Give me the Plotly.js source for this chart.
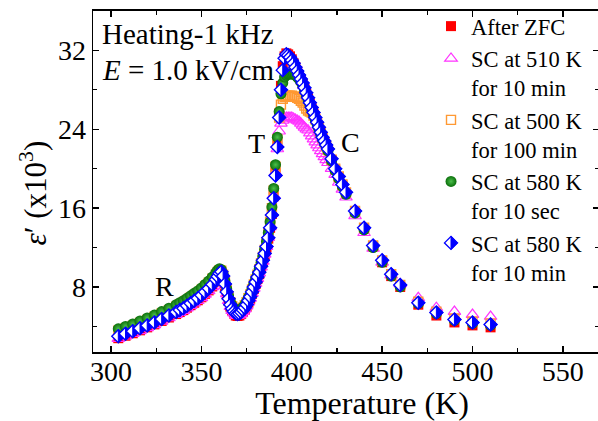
<!DOCTYPE html>
<html>
<head>
<meta charset="utf-8">
<script src="https://cdn.plot.ly/plotly-3.0.1.min.js"></script>
<style>html,body{margin:0;padding:0;overflow:hidden;background:#fff}#chart{width:610px;height:421px}</style>
</head>
<body>
<div id="chart"></div>
<script>
const temperature = [304,308,312,316,320,324,328,332,336,338,340,342,344,346,348,350,352,354,356,358,
 359,360,361,362,363,364,365,366,367,368,369,370,371,372,373,374,375,376,377,378,379,380,
 381,382,383,384,385,386,387,388,389,390,391,392,393,394,395,396,397,398,399,400,
 401,402,403,404,405,406,407,408,409,410,411,412,413,414,415,416,417,418,419,420,
 422,424,426,428,430,435,440,445,450,455,460,470,480,490,500,510];

const afterZFC = [2.8,3.05,3.3,3.6,3.9,4.2,4.55,4.9,5.25,5.45,5.65,5.9,6.15,6.4,6.65,6.95,7.3,7.65,8.05,8.55,
 8.85,9.2,9.35,8.9,8.1,7.3,6.6,6.0,5.6,5.3,5.1,5.05,5.1,5.25,5.45,5.7,6.0,6.4,6.8,7.3,7.8,8.3,
 8.8,9.3,9.9,10.5,11.2,12.0,12.9,14.0,15.4,17.2,19.6,22.5,25.6,28.4,30.4,31.4,31.7,31.6,31.4,31.1,
 30.7,30.3,29.9,29.5,29.0,28.6,28.1,27.6,27.1,26.6,26.1,25.6,25.1,24.6,24.1,23.6,23.1,22.7,22.3,21.9,
 20.9,19.9,19.1,18.3,17.5,15.6,13.9,12.1,10.5,9.1,8.0,6.2,5.1,4.4,4.1,3.9];

const sc510_10min = [2.75,3.0,3.25,3.55,3.85,4.15,4.5,4.85,5.2,5.4,5.6,5.85,6.1,6.35,6.6,6.9,7.25,7.6,8.0,8.5,
 8.8,9.15,9.3,8.9,8.1,7.3,6.6,6.0,5.6,5.35,5.15,5.1,5.15,5.3,5.5,5.75,6.05,6.45,6.85,7.35,7.85,8.35,
 8.85,9.4,10.0,10.6,11.3,12.1,13.0,14.1,15.5,17.3,19.6,22.0,23.8,24.6,24.9,25.1,25.2,25.2,25.2,25.2,
 25.1,25.0,24.9,24.8,24.6,24.4,24.2,24.0,23.9,23.6,23.3,23.0,22.7,22.4,22.1,21.8,21.5,21.2,20.9,20.6,
 20.0,19.4,18.6,17.9,17.1,15.2,13.5,11.9,10.5,9.2,8.3,6.9,5.9,5.5,5.2,5.0];

const sc500_100min = [3.55,3.8,4.05,4.35,4.65,4.95,5.3,5.65,6.0,6.2,6.4,6.65,6.9,7.15,7.4,7.7,8.05,8.4,8.8,9.25,
 9.5,9.7,9.65,9.25,8.55,7.75,7.05,6.45,6.05,5.75,5.55,5.5,5.55,5.7,5.9,6.15,6.45,6.85,7.25,7.75,8.25,8.75,
 9.25,9.8,10.4,11.05,11.75,12.55,13.45,14.6,16.0,17.8,20.2,23.0,25.2,26.5,27.1,27.3,27.4,27.4,27.4,27.4,
 27.3,27.3,27.2,27.1,26.9,26.7,26.4,26.1,25.9,25.8,25.7,25.4,25.0,24.6,24.1,23.6,23.1,22.7,22.3,21.9,
 20.9,20.0,19.2,18.4,17.6,15.7,14.0,12.2,10.7,9.3,8.2,6.5,5.5,4.8,4.5,4.3];

const sc580_10sec = [3.75,4.0,4.25,4.55,4.85,5.15,5.5,5.85,6.2,6.4,6.6,6.85,7.1,7.35,7.6,7.9,8.25,8.6,9.0,9.45,
 9.7,9.85,9.75,9.3,8.6,7.8,7.1,6.5,6.1,5.8,5.6,5.55,5.6,5.75,5.95,6.2,6.5,6.9,7.3,7.8,8.3,8.8,
 9.3,9.85,10.45,11.1,11.8,12.6,13.5,14.6,16.1,18.0,20.4,23.2,25.8,27.6,28.7,29.3,29.5,29.6,29.6,29.6,
 29.6,29.5,29.3,29.1,28.8,28.5,28.0,27.5,27.0,26.5,26.0,25.5,25.0,24.5,24.0,23.5,23.0,22.6,22.2,21.8,
 20.8,19.8,19.0,18.2,17.4,15.5,13.8,12.0,10.5,9.1,8.0,6.3,5.3,4.6,4.3,4.1];

const sc580_10min = [3.0,3.25,3.5,3.8,4.1,4.4,4.75,5.1,5.45,5.65,5.85,6.1,6.35,6.6,6.85,7.15,7.5,7.85,8.25,8.75,
 9.05,9.4,9.55,9.1,8.3,7.5,6.8,6.2,5.8,5.5,5.3,5.25,5.3,5.45,5.65,5.9,6.2,6.6,7.0,7.5,8.0,8.5,
 9.0,9.5,10.1,10.7,11.4,12.1,13.0,14.0,15.3,17.0,19.3,22.2,25.2,28.0,30.0,31.2,31.6,31.5,31.3,31.0,
 30.7,30.3,29.9,29.5,29.1,28.7,28.2,27.7,27.2,26.7,26.2,25.7,25.2,24.7,24.2,23.7,23.2,22.8,22.4,22.0,
 21.0,20.0,19.2,18.4,17.6,15.7,14.0,12.2,10.7,9.3,8.2,6.4,5.4,4.7,4.4,4.2];

const seriesNames = ['After ZFC','SC at 510 K<br>for 10 min','SC at 500 K<br>for 100 min','SC at 580 K<br>for 10 sec','SC at 580 K<br>for 10 min'];
const xTickVals = [300,350,400,450,500,550];
const yTickVals = [8,16,24,32];

const serif = 'Liberation Serif, Times New Roman, serif';
const BLUE = '#0000FF';
const DIAMOND_SIZE = 10;

const traces = [
 {x: temperature, y: afterZFC, name: seriesNames[0], mode:'markers', type:'scatter',
  marker:{symbol:'square', size:10, color:'#FF0000', line:{width:0}}},
 {x: temperature, y: sc510_10min, name: seriesNames[1], mode:'markers', type:'scatter',
  marker:{symbol:'triangle-up-open', size:11, color:'#FF33FF', line:{width:1.2, color:'#FF33FF'}}},
 {x: temperature, y: sc500_100min, name: seriesNames[2], mode:'markers', type:'scatter',
  marker:{symbol:'square-open', size:9, color:'#FF9933', line:{width:1.4, color:'#FF9933'}}},
 {x: temperature, y: sc580_10sec, name: seriesNames[3], mode:'markers', type:'scatter',
  marker:{symbol:'circle', size:11, color:'#0A6E0A', gradient:{type:'radial', color:'#4CC04C'}, line:{width:0}}},
 {x: temperature, y: sc580_10min, name: seriesNames[4], mode:'markers', type:'scatter',
  marker:{symbol:'diamond', size:DIAMOND_SIZE, color:'#FFFFFF', line:{width:1.4, color:BLUE}}}
];

const axisCommon = {
 showline:true, linecolor:'#000', linewidth:1.5, mirror:'allticks',
 ticks:'inside', ticklen:6, tickwidth:1.3, tickcolor:'#000',
 showgrid:false, zeroline:false,
 tickfont:{family:serif, size:28, color:'#000'}
};

const layout = {
 width:610, height:421,
 margin:{l:93, r:10.5, t:5, b:69},
 paper_bgcolor:'#fff', plot_bgcolor:'#fff',
 showlegend:true,
 xaxis: Object.assign({}, axisCommon, {
  range:[290,570], tickvals:xTickVals, ticktext:xTickVals.map(String),
  ticklabelstandoff:-6,
  minor:{dtick:25, tick0:300, ticks:'inside', ticklen:4, tickwidth:1.2, tickcolor:'#000'},
  title:{text:'\u200d\u00a0\u00a0\u00a0\u00a0Temperature (K)', font:{family:serif, size:32, color:'#000'}, standoff:2}
 }),
 yaxis: Object.assign({}, axisCommon, {
  domain:[0, 0.98271],
  range:[1.4,36], tickvals:yTickVals, ticktext:yTickVals.map(String),
  minor:{dtick:4, tick0:0, ticks:'inside', ticklen:4, tickwidth:1.2, tickcolor:'#000'},
  title:{text:'<i>ε</i>\u2032 (x10<sup>3</sup>)\u00a0\u00a0\u00a0\u200d', font:{family:serif, size:31, color:'#000'}, standoff:2}
 }),
 legend:{x:0.668, y:1, xanchor:'left', yanchor:'top', bgcolor:'rgba(0,0,0,0)', borderwidth:0,
  font:{family:serif, size:22.5, color:'#000'}, valign:'top', tracegroupgap:0, itemwidth:30},
 annotations:[
  {xref:'paper', yref:'paper', x:0.014, y:0.9153, xanchor:'left', yanchor:'middle', showarrow:false, align:'left',
   text:'Heating-1 kHz', font:{family:serif, size:29, color:'#000'}},
  {xref:'paper', yref:'paper', x:0.014, y:0.8115, xanchor:'left', yanchor:'middle', showarrow:false, align:'left',
   text:'<i>E</i> = 1.0 kV/cm', font:{family:serif, size:29, color:'#000'}},
  {xref:'x', yref:'y', x:329.5, y:8.0, showarrow:false, text:'R', font:{family:serif, size:28, color:'#000'}},
  {xref:'x', yref:'y', x:380.7, y:22.6, showarrow:false, text:'T', font:{family:serif, size:28, color:'#000'}},
  {xref:'x', yref:'y', x:432.6, y:22.7, showarrow:false, text:'C', font:{family:serif, size:28, color:'#000'}}
 ]
};

// right half of each diamond marker is filled blue (half-filled diamond symbol)
function halfFillDiamonds(gd) {
  const rd = DIAMOND_SIZE / 2 * 1.3;
  const halfPath = 'M0,-' + rd + 'L' + rd + ',0L0,' + rd + 'Z';
  const add = (p) => {
    const h = document.createElementNS('http://www.w3.org/2000/svg', 'path');
    h.setAttribute('d', halfPath);
    const tr = p.getAttribute('transform');
    if (tr) h.setAttribute('transform', tr);
    h.setAttribute('style', 'fill:' + BLUE + ';stroke:' + BLUE + ';stroke-width:1px');
    p.parentNode.insertBefore(h, p.nextSibling);
  };
  const traceGroups = gd.querySelectorAll('.scatterlayer .trace');
  if (traceGroups[4]) traceGroups[4].querySelectorAll('path.point').forEach(add);
  const legendItems = gd.querySelectorAll('.legend .traces');
  if (legendItems[4]) legendItems[4].querySelectorAll('.legendpoints path.scatterpts').forEach(add);
}

const gd = document.getElementById('chart');
Plotly.newPlot(gd, traces, layout, {staticPlot:true, displayModeBar:false}).then(() => halfFillDiamonds(gd));
</script>
</body>
</html>
